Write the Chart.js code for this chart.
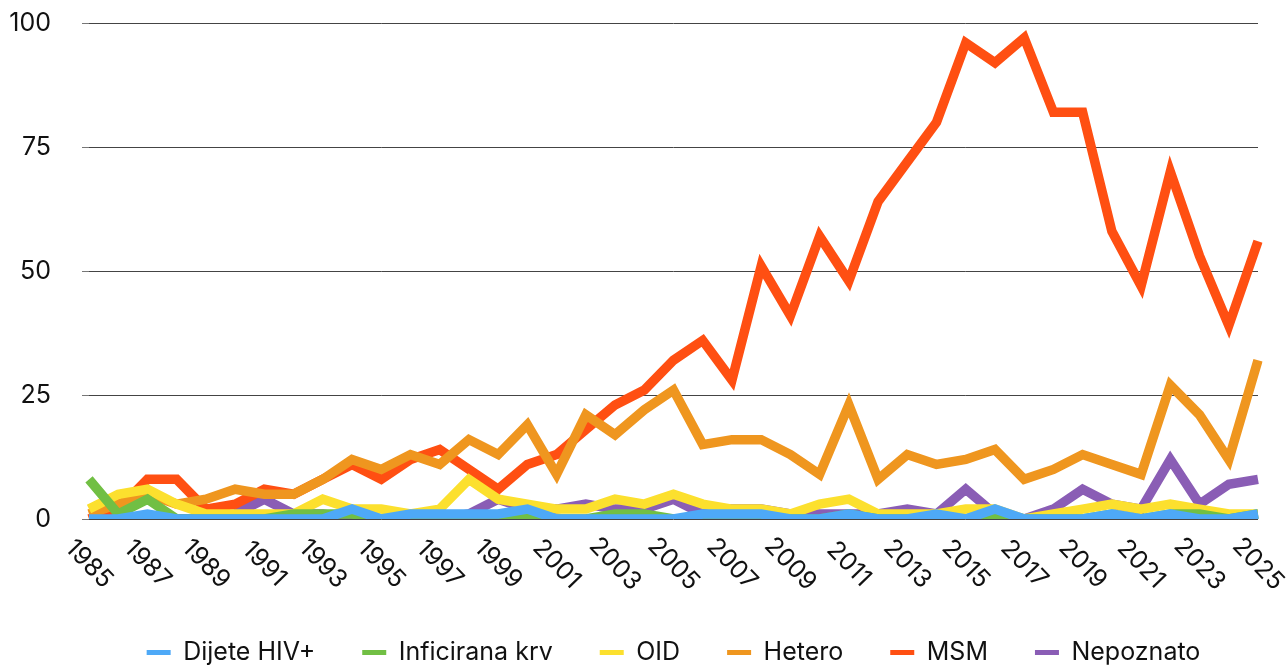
<!DOCTYPE html>
<html>
<head>
<meta charset="utf-8">
<style>
  html, body { margin: 0; padding: 0; background: #fff; }
</style>
<script src="https://cdn.jsdelivr.net/npm/chart.js"></script>
</head>
<body>
<canvas id="hivChart" width="1287" height="665"></canvas>
<script>
// years 1985..2025
const years = [];
for (let y = 1985; y <= 2025; y++) years.push(String(y));

const yTicks = [0, 25, 50, 75, 100];

// new cases per year by transmission route
const dijeteHiv = [0,0,1,0,0,0,0,0,0,2, 0,1,1,1,1,2,0,0,0,0, 0,1,1,1,0,0,1,0,0,1, 0,2,0,0,0,1,0,1,0,0, 1];
const inficiranaKrv = [8,1,4,0,0,0,0,1,1,1, 0,0,0,0,0,1,0,0,1,1, 0,0,0,0,0,0,1,0,0,0, 0,1,0,0,0,1,0,1,1,0, 1];
const oid = [2,5,6,3,1,1,1,1,4,2, 2,1,2,8,4,3,2,2,4,3, 5,3,2,2,1,3,4,1,1,1, 2,2,0,1,2,3,2,3,2,1, 1];
const hetero = [1,3,5,3,4,6,5,5,8,12, 10,13,11,16,13,19,9,21,17,22, 26,15,16,16,13,9,23,8,13,11, 12,14,8,10,13,11,9,27,21,12, 32];
const msm = [0,2,8,8,2,3,6,5,8,11, 8,12,14,10,6,11,13,18,23,26, 32,36,28,51,41,57,48,64,72,80, 96,92,97,82,82,58,47,70,53,39, 56];
const nepoznato = [0,0,0,0,0,1,4,1,1,0, 0,0,0,1,4,2,2,3,2,2, 4,1,2,2,1,1,1,1,2,1, 6,1,0,2,6,3,2,12,3,7, 8];

const seriesNames = ['Dijete HIV+', 'Inficirana krv', 'OID', 'Hetero', 'MSM', 'Nepoznato'];
const seriesValues = [dijeteHiv, inficiranaKrv, oid, hetero, msm, nepoznato];
const colors = ['#4EA9F7', '#71BF44', '#FCE02E', '#EF961F', '#FF4F12', '#8A5DB5'];

const FONT = 'Inter, "Noto Sans", sans-serif';
Chart.defaults.font.family = FONT;

// x labels are drawn tilted downwards, every second year
const slantedYears = {
  id: 'slantedYears',
  afterDraw(chart) {
    const xs = chart.scales.x;
    const ctx = chart.ctx;
    ctx.save();
    ctx.font = '25px ' + FONT;
    ctx.fillStyle = '#111';
    ctx.textAlign = 'center';
    ctx.textBaseline = 'middle';
    years.forEach((yr, i) => {
      if (i % 2 !== 0) return;
      const x = xs.getPixelForValue(i);
      ctx.save();
      ctx.translate(x, chart.chartArea.bottom + 45);
      ctx.rotate(46 * Math.PI / 180);
      ctx.fillText(yr, 0, 0);
      ctx.restore();
    });
    ctx.restore();
  }
};

const ctx = document.getElementById('hivChart').getContext('2d');

new Chart(ctx, {
  type: 'line',
  data: {
    labels: years,
    datasets: seriesNames.map((name, i) => ({
      label: name,
      data: seriesValues[i],
      borderColor: colors[i],
      backgroundColor: colors[i],
      borderWidth: 9.5,
      pointRadius: 0,
      tension: 0,
      fill: false
    }))
  },
  options: {
    responsive: false,
    animation: false,
    layout: {
      padding: { left: 0, right: 29, top: 0, bottom: -10 }
    },
    scales: {
      x: {
        offset: false,
        grid: { display: false },
        border: { display: false },
        ticks: { display: false },
        afterFit(scale) { scale.height = 74; }
      },
      y: {
        min: 0,
        max: 100,
        afterBuildTicks(scale) { scale.ticks = yTicks.map(v => ({ value: v })); },
        grid: {
          color: '#444',
          lineWidth: 1,
          drawTicks: true,
          tickLength: 7,
          tickColor: '#777'
        },
        border: { display: false },
        ticks: {
          padding: 31,
          color: '#111',
          font: { size: 25 }
        },
        afterFit(scale) {
          scale.width = 89;
          scale.paddingTop = 23;
        }
      }
    },
    plugins: {
      legend: {
        position: 'bottom',
        fullSize: false,
        labels: {
          boxWidth: 24,
          boxHeight: 5,
          padding: 47,
          color: '#111',
          font: { size: 25 },
          generateLabels(chart) {
            return Chart.defaults.plugins.legend.labels.generateLabels(chart)
              .map(l => Object.assign(l, { lineWidth: 0 }));
          }
        }
      },
      tooltip: { enabled: false }
    }
  },
  plugins: [slantedYears]
});
</script>
</body>
</html>
